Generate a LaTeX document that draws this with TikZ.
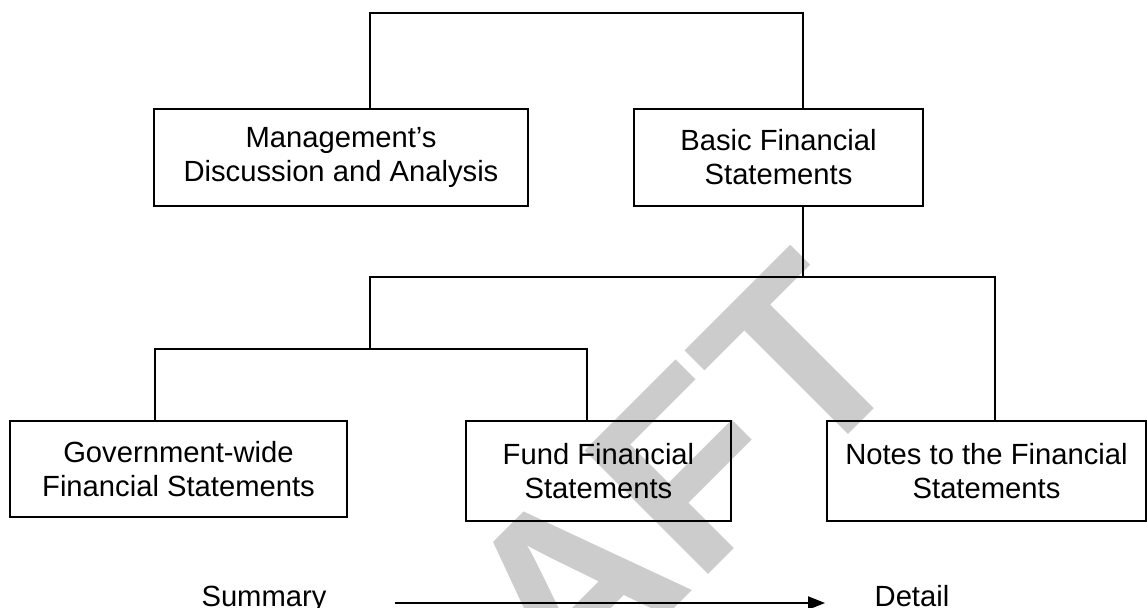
\documentclass[tikz,border=0pt]{standalone}
\usepackage{fontspec}
\setmainfont{Liberation Sans}
\usepackage{tikz}
\usetikzlibrary{arrows.meta,positioning}

\begin{document}
\begin{tikzpicture}[
  x=0.5pt, y=-0.5pt,
  font=\fontsize{14.6}{17}\selectfont,
  box/.style={draw,line width=1pt,align=center,inner sep=0pt},
  link/.style={line width=1pt},
  arr/.style={-{Triangle[length=8.5pt,width=6.5pt]},line width=1pt},
  wmark/.style={rotate=45,anchor=base,inner sep=0pt,text=black!20,font=\fontsize{127}{127}\selectfont\bfseries},
]
\useasboundingbox (0,0) rectangle (1147,608);

\begin{scope}
\clip (0,0) rectangle (1147,608);
\node[wmark] (draft) at (612,671) {DRAFT};
\end{scope}

\node[box,minimum width=187pt,minimum height=48.5pt] (mda) at (341,157.5) {Management’s\\Discussion and Analysis};
\node[box,minimum width=144.5pt,minimum height=48.5pt] (bfs) at (778.5,157.5) {Basic Financial\\Statements};
\node[box,minimum width=168.5pt,minimum height=48pt] (gov) at (178.5,469) {Government-wide\\Financial Statements};
\node[box,minimum width=132.5pt,minimum height=50pt] (fund) at (598.5,471) {Fund Financial\\Statements};
\node[box,minimum width=159.5pt,minimum height=50pt] (notes) at (986.5,471) {Notes to the Financial\\Statements};

\coordinate (t1) at (370,13);
\coordinate (t2) at (803,13);
\coordinate (m1) at (370,277);
\coordinate (m2) at (995,277);
\coordinate (b1) at (155,349);
\coordinate (b2) at (587,349);

\draw[link] (mda.north -| t1) -- (t1) -- (t2) -- (bfs.north -| t2);
\draw[link] (bfs.south -| t2) -- (t2 |- m1);
\draw[link] (m1 |- b1) -- (m1) -- (m2) -- (notes.north -| m2);
\draw[link] (gov.north -| b1) -- (b1) -- (b2) -- (fund.north -| b2);

\node[anchor=base] (sum) at (264,607) {Summary};
\node[anchor=base] (det) at (912,607) {Detail};
\coordinate (a1) at (395,603);
\coordinate (a2) at (825,603);
\draw[arr] (a1) -- (a2);

\end{tikzpicture}
\end{document}
